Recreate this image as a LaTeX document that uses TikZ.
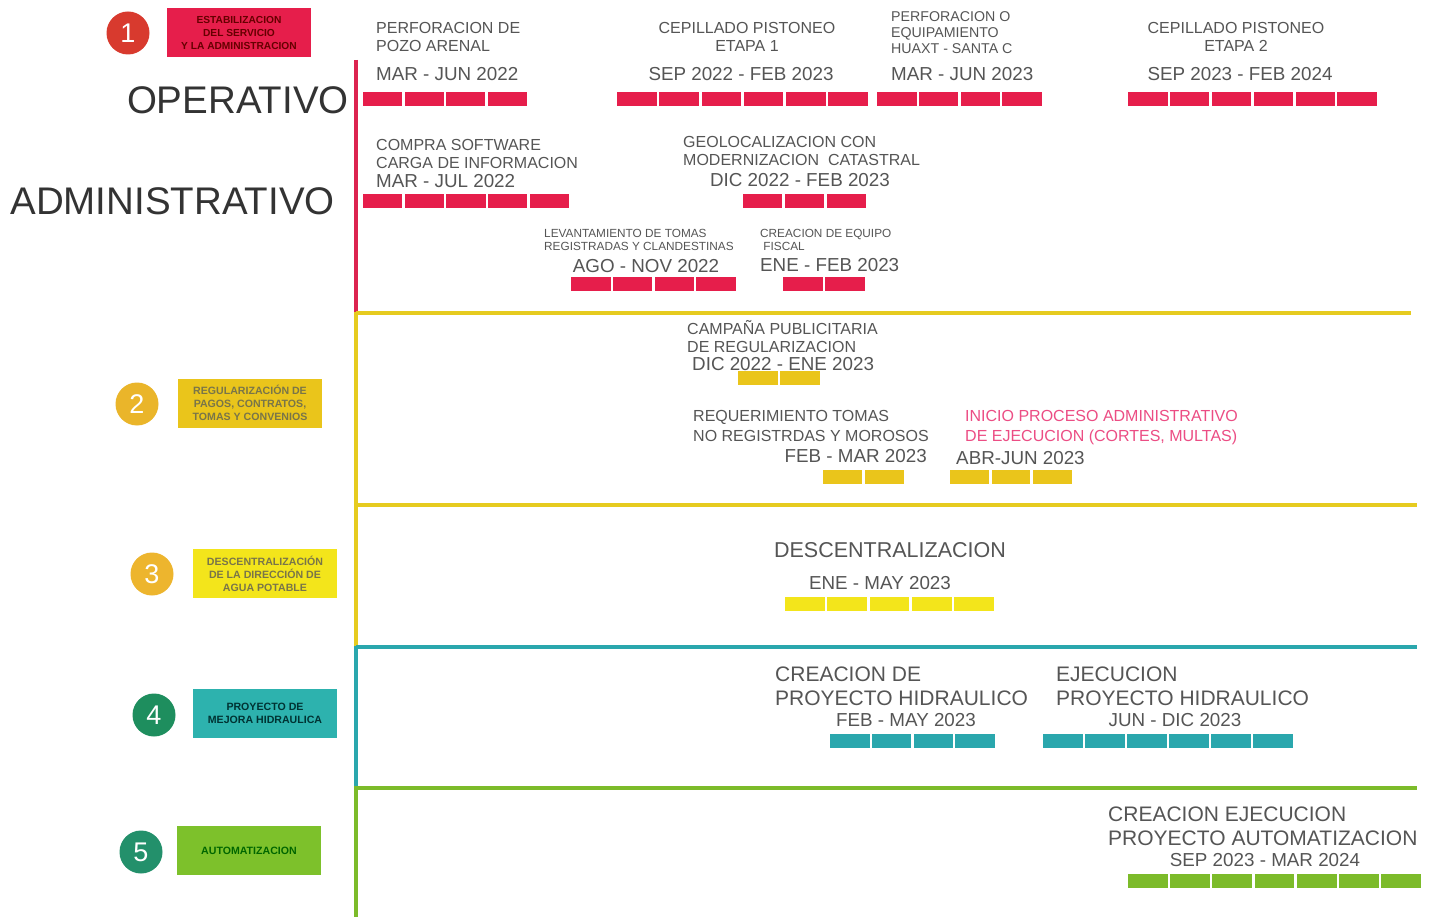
\documentclass[tikz,border=0pt]{standalone}
\usepackage{fontspec}
\setmainfont{Liberation Sans}
\definecolor{redbar}{HTML}{E61E4B}
\definecolor{redline}{HTML}{DC2450}
\definecolor{yelline}{HTML}{E6CB1F}
\definecolor{yelbar}{HTML}{EAC51B}
\definecolor{brightyel}{HTML}{F3E51B}
\definecolor{tealc}{HTML}{2AA7AD}
\definecolor{tealbox}{HTML}{2DB2AE}
\definecolor{greenc}{HTML}{7CBB2A}
\definecolor{greenbox}{HTML}{7DC12B}
\definecolor{circA}{HTML}{D83A2E}
\definecolor{circB}{HTML}{EAB52A}
\definecolor{circC}{HTML}{EDB52E}
\definecolor{circD}{HTML}{1E8E5E}
\definecolor{circE}{HTML}{23906B}
\definecolor{txtgray}{HTML}{555555}
\definecolor{pinktxt}{HTML}{EC4D84}
\newcommand{\segbar}[5]{%
  \pgfmathsetmacro{\segw}{(#2-#1)/#4}%
  \foreach \k in {1,...,#4}{%
    \fill[#5] ({#1+(\k-1)*\segw+1.2},{#3-7}) rectangle ({#1+\k*\segw-1.2},{#3+7});%
  }%
}
\begin{document}
\begin{tikzpicture}[x=1pt,y=-1pt,
  lbl/.style={inner sep=0, text=txtgray, align=left, font=\fontsize{16}{18}\selectfont},
  lblc/.style={inner sep=0, text=txtgray, align=center, font=\fontsize{16}{18}\selectfont},
  small/.style={inner sep=0, text=txtgray, align=left, font=\fontsize{14.2}{16}\selectfont},
  tiny/.style={inner sep=0, text=txtgray, align=left, font=\fontsize{11.8}{13}\selectfont},
  datel/.style={inner sep=0, text=txtgray, font=\fontsize{18.8}{20}\selectfont},
  big/.style={inner sep=0, text=txtgray, align=left, font=\fontsize{21}{24}\selectfont},
  huge/.style={inner sep=0, text=black!80, font=\fontsize{38.5}{40}\selectfont},
  numcirc/.style={circle, inner sep=0, minimum size=43, text=white, font=\fontsize{27}{27}\selectfont},
  catbox/.style={rectangle, inner sep=0, minimum width=144, minimum height=49, align=center, font=\bfseries\fontsize{10.6}{13}\selectfont}
]
\useasboundingbox (0,0) rectangle (1438,917);
\fill[white] (0,0) rectangle (1438,917);

% timeline axis
\coordinate (v0) at (356,60);
\coordinate (v1) at (356,312);
\coordinate (v2) at (356,646);
\coordinate (v3) at (356,786);
\coordinate (v4) at (356,917);
\coordinate (h1) at (1411,313);
\coordinate (h2) at (1417,505);
\coordinate (h3) at (1417,647);
\coordinate (h4) at (1417,788);
\draw[redline, line width=4] (v0) -- (v1);
\draw[yelline, line width=4] (v1) -- (v2);
\draw[tealc, line width=4] (v2) -- (v3);
\draw[greenc, line width=4] (v3) -- (v4);
\draw[yelline, line width=4] (356,313) -- (h1);
\draw[yelline, line width=4] (356,505) -- (h2);
\draw[tealc, line width=4] (356,647) -- (h3);
\draw[greenc, line width=4] (356,788) -- (h4);

% category markers
\node[numcirc, fill=circA] (n1) at (128,33) {1};
\node[catbox, fill=redbar, text=black!60!red, font=\bfseries\fontsize{10.2}{13}\selectfont] (b1) at (239,32.5) {ESTABILIZACION\\DEL SERVICIO\\Y LA ADMINISTRACION};
\node[numcirc, fill=circB] (n2) at (137,404) {2};
\node[catbox, fill=yelbar, text=black!60!yellow] (b2) at (250,403) {REGULARIZACIÓN DE\\PAGOS, CONTRATOS,\\TOMAS Y CONVENIOS};
\node[numcirc, fill=circC] (n3) at (152,574) {3};
\node[catbox, fill=brightyel, text=black!60!yellow] (b3) at (265,573.5) {DESCENTRALIZACIÓN\\DE LA DIRECCIÓN DE\\AGUA POTABLE};
\node[numcirc, fill=circD] (n4) at (154,715) {4};
\node[catbox, fill=tealbox, text=black!60!teal] (b4) at (265,713.5) {PROYECTO DE\\MEJORA HIDRAULICA};
\node[numcirc, fill=circE] (n5) at (141,852) {5};
\node[catbox, fill=greenbox, text=black!60!green] (b5) at (249,850.5) {AUTOMATIZACION};

\node[huge, anchor=east] (op) at (349,100) {OPERATIVO};
\node[huge, anchor=east] (adm) at (335,201) {ADMINISTRATIVO};

% OPERATIVO row
\node[lbl, anchor=north west] (t1) at (376,22.5) {PERFORACION DE\\POZO ARENAL};
\node[datel, anchor=west] (d1) at (376,74) {MAR - JUN 2022};
\segbar{362}{528}{99}{4}{redbar}
\node[lblc, anchor=north] (t2) at (747,22.5) {CEPILLADO PISTONEO\\ETAPA 1};
\node[datel] (d2) at (741,74) {SEP 2022 - FEB 2023};
\segbar{616}{869}{99}{6}{redbar}
\node[small, anchor=north west] (t3) at (891,11) {PERFORACION O\\EQUIPAMIENTO\\HUAXT - SANTA C};
\node[datel, anchor=west] (d3) at (891,74) {MAR - JUN 2023};
\segbar{876}{1043}{99}{4}{redbar}
\node[lblc, anchor=north] (t4) at (1236,22.5) {CEPILLADO PISTONEO\\ETAPA 2};
\node[datel] (d4) at (1240,74) {SEP 2023 - FEB 2024};
\segbar{1127}{1378}{99}{6}{redbar}

% ADMINISTRATIVO rows
\node[lbl, anchor=north west] (t5) at (376,139.5) {COMPRA SOFTWARE\\CARGA DE INFORMACION};
\node[datel, anchor=west] (d5) at (376,181) {MAR - JUL 2022};
\segbar{362}{570}{201.5}{5}{redbar}
\node[lbl, anchor=north west] (t6) at (683,136.5) {GEOLOCALIZACION CON\\MODERNIZACION\ \ CATASTRAL};
\node[datel] (d6) at (800,180) {DIC 2022 - FEB 2023};
\segbar{742}{867}{201.5}{3}{redbar}
\node[tiny, anchor=north west] (t7) at (544,229.5) {LEVANTAMIENTO DE TOMAS\\REGISTRADAS Y CLANDESTINAS};
\node[datel] (d7) at (646,266) {AGO - NOV 2022};
\segbar{570}{737}{284.5}{4}{redbar}
\node[tiny, anchor=north west] (t8) at (760,229.5) {CREACION DE EQUIPO\\\ FISCAL};
\node[datel, anchor=west] (d8) at (760,265) {ENE - FEB 2023};
\segbar{782}{866}{284.5}{2}{redbar}

% section 2
\node[lbl, anchor=north west] (t9) at (687,320) {CAMPAÑA PUBLICITARIA\\DE REGULARIZACION};
\node[datel, anchor=west] (d9) at (692,364) {DIC 2022 - ENE 2023};
\segbar{737}{821}{377.5}{2}{yelbar}
\node[lbl, anchor=north west, font=\fontsize{16}{20}\selectfont] (t10) at (693,410.5) {REQUERIMIENTO TOMAS\\NO REGISTRDAS Y MOROSOS};
\node[datel, anchor=east] (d10) at (927,456) {FEB - MAR 2023};
\segbar{822}{905}{477}{2}{yelbar}
\node[lbl, anchor=north west, text=pinktxt, font=\fontsize{16}{20}\selectfont] (t11) at (965,410.5) {INICIO PROCESO ADMINISTRATIVO\\DE EJECUCION (CORTES, MULTAS)};
\node[datel, anchor=west] (d11) at (956,458) {ABR-JUN 2023};
\segbar{949}{1073}{477}{3}{yelbar}

% section 3
\node[big, font=\fontsize{21.5}{24}\selectfont] (t12) at (890,550) {DESCENTRALIZACION};
\node[datel] (d12) at (880,583) {ENE - MAY 2023};
\segbar{784}{995}{604}{5}{brightyel}

% section 4
\node[big, anchor=north west] (t13) at (775,666.5) {CREACION DE\\PROYECTO HIDRAULICO};
\node[datel] (d13) at (906,720) {FEB - MAY 2023};
\segbar{829}{996}{741}{4}{tealc}
\node[big, anchor=north west] (t14) at (1056,666.5) {EJECUCION\\PROYECTO HIDRAULICO};
\node[datel] (d14) at (1175,720) {JUN - DIC 2023};
\segbar{1042}{1294}{741}{6}{tealc}

% section 5
\node[big, anchor=north west] (t15) at (1108,806.5) {CREACION EJECUCION\\PROYECTO AUTOMATIZACION};
\node[datel] (d15) at (1265,860) {SEP 2023 - MAR 2024};
\segbar{1127}{1422}{881}{7}{greenc}
\end{tikzpicture}
\end{document}
